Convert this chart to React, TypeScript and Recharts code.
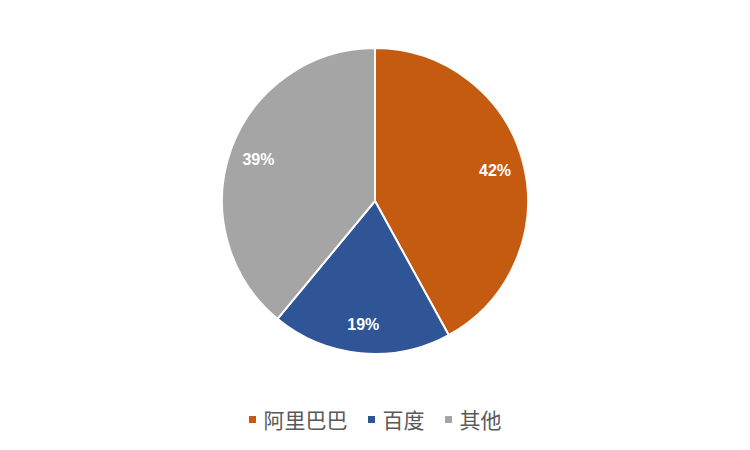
import React from 'react';
import { PieChart, Pie, Cell, Legend } from 'recharts';

const names = ['阿里巴巴', '百度', '其他'];
const shares = [42, 19, 39];
const colors = ['#C55A11', '#2F5597', '#A5A5A5'];

const data = names.map((name, i) => ({ name, value: shares[i] }));

const RADIAN = Math.PI / 180;

const renderLabel = (props: any) => {
  const { cx, cy, midAngle, outerRadius, value } = props;
  const r = outerRadius * 0.81;
  const x = cx + r * Math.cos(-midAngle * RADIAN);
  const y = cy + r * Math.sin(-midAngle * RADIAN);
  return (
    <text
      x={x}
      y={y}
      fill="#FFFFFF"
      textAnchor="middle"
      dominantBaseline="central"
      fontSize={16}
      fontWeight="bold"
      fontFamily="'Liberation Sans', Arial, sans-serif"
    >
      {value}%
    </text>
  );
};

const renderLegend = () => (
  <div
    style={{
      display: 'flex',
      justifyContent: 'center',
      alignItems: 'center',
      fontFamily: "'Noto Sans CJK SC', sans-serif",
      fontSize: 21,
      color: '#595959',
    }}
  >
    {names.map((n, i) => (
      <div key={n} style={{ display: 'flex', alignItems: 'center', marginRight: i < names.length - 1 ? 20 : 0 }}>
        <span style={{ width: 7, height: 7, background: colors[i], display: 'inline-block', marginRight: 8 }} />
        <span>{n}</span>
      </div>
    ))}
  </div>
);

const App: React.FC = () => {
  return (
    <div style={{ position: 'absolute', left: 0, top: 0, width: 750, height: 450, background: '#FFFFFF' }}>
      <PieChart width={750} height={450} margin={{ top: 0, right: 0, bottom: 0, left: 0 }}>
        <Pie
          data={data}
          dataKey="value"
          nameKey="name"
          cx={375}
          cy={201}
          outerRadius={153}
          startAngle={90}
          endAngle={-270}
          stroke="#FFFFFF"
          strokeWidth={2}
          label={renderLabel}
          labelLine={false}
          isAnimationActive={false}
        >
          {data.map((d, i) => (
            <Cell key={d.name} fill={colors[i]} />
          ))}
        </Pie>
        <Legend content={renderLegend} wrapperStyle={{ top: 404, left: 0, width: 750 }} />
      </PieChart>
    </div>
  );
};

export default App;
